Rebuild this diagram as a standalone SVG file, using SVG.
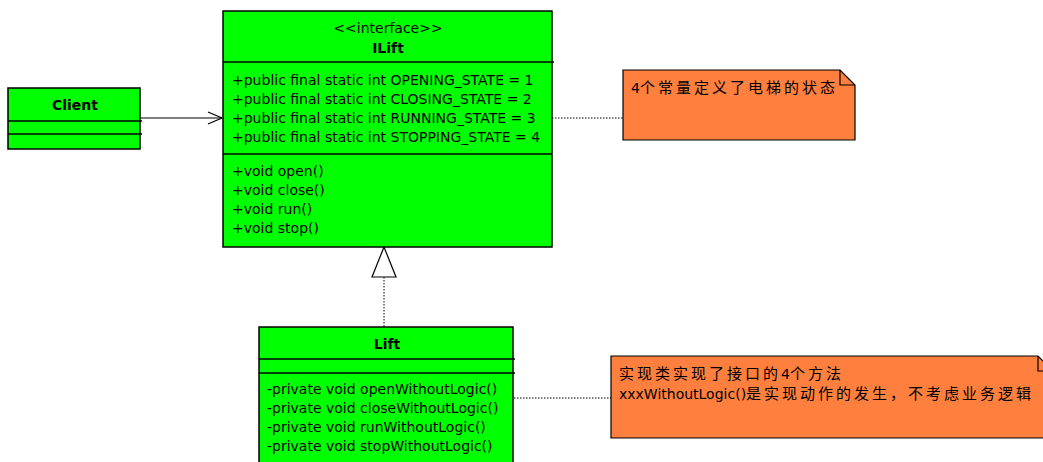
<svg xmlns="http://www.w3.org/2000/svg" width="1043" height="462" viewBox="0 0 1043 462">
<style>
.box{fill:#00FF00;stroke:#000;stroke-width:1.5}
.div{stroke:#000;stroke-width:1.5}
.note{fill:#FF7F3F;stroke:#000;stroke-width:1.2}
.t{font-family:"DejaVu Sans",sans-serif;font-size:14px;fill:#000}
.b{font-weight:bold;text-anchor:middle}
.c{font-family:"Noto Sans CJK SC",sans-serif;font-size:15px;letter-spacing:3px}
.n{font-family:"DejaVu Sans","Noto Sans CJK SC",sans-serif;font-size:14px;fill:#000}
.dot{stroke:#000;stroke-width:1;stroke-dasharray:1.5 1.5;fill:none}
</style>
<g id="connectors">
<line x1="140" y1="118" x2="222" y2="118" stroke="#000" stroke-width="1.2"/>
<polyline points="208,112 222,118 208,124" fill="none" stroke="#000" stroke-width="1.2"/>
<line class="dot" x1="384" y1="277" x2="384" y2="327"/>
<polygon points="384,247 372,277 396,277" fill="#fff" stroke="#000" stroke-width="1.2"/>
<line class="dot" x1="552" y1="118" x2="623" y2="118"/>
<line class="dot" x1="514" y1="398" x2="611" y2="398"/>
</g>
<g id="client">
<rect class="box" x="8" y="88" width="132" height="61"/>
<line class="div" x1="8" y1="121" x2="142" y2="121"/>
<line class="div" x1="8" y1="134" x2="142" y2="134"/>
<text class="t b" x="75" y="110">Client</text>
</g>
<g id="ilift">
<rect class="box" x="223" y="11" width="329" height="236"/>
<line class="div" x1="223" y1="62" x2="554" y2="62"/>
<line class="div" x1="223" y1="154" x2="552" y2="154"/>
<text class="t" x="388" y="33" text-anchor="middle">&lt;&lt;interface&gt;&gt;</text>
<text class="t b" x="388" y="53">ILift</text>
<text class="t" x="232" y="85">+public final static int OPENING_STATE = 1</text>
<text class="t" x="232" y="104">+public final static int CLOSING_STATE = 2</text>
<text class="t" x="232" y="123">+public final static int RUNNING_STATE = 3</text>
<text class="t" x="232" y="142">+public final static int STOPPING_STATE = 4</text>
<text class="t" x="232" y="176">+void open()</text>
<text class="t" x="232" y="195">+void close()</text>
<text class="t" x="232" y="214">+void run()</text>
<text class="t" x="232" y="233">+void stop()</text>
</g>
<g id="lift">
<rect class="box" x="259" y="327" width="254" height="140"/>
<line class="div" x1="259" y1="359" x2="515" y2="359"/>
<line class="div" x1="259" y1="373" x2="515" y2="373"/>
<text class="t b" x="387" y="349">Lift</text>
<text class="t" x="267" y="394">-private void openWithoutLogic()</text>
<text class="t" x="267" y="413">-private void closeWithoutLogic()</text>
<text class="t" x="267" y="432">-private void runWithoutLogic()</text>
<text class="t" x="267" y="451">-private void stopWithoutLogic()</text>
</g>
<g id="note1">
<path class="note" d="M623,70 H840 L855,85 V140 H623 Z"/>
<polyline points="840,70 840,85 855,85" fill="none" stroke="#000" stroke-width="1.2"/>
<text class="n" x="631" y="93">4<tspan class="c">个常量定义了电梯的状态</tspan></text>
</g>
<g id="note2">
<path class="note" d="M611,356 H1038 L1053,371 V438 H611 Z"/>
<polyline points="1038,356 1038,371 1053,371" fill="none" stroke="#000" stroke-width="1.2"/>
<text class="n" x="619" y="379"><tspan class="c">实现类实现了接口的</tspan>4<tspan class="c">个方法</tspan></text>
<text class="n" x="619" y="399">xxxWithoutLogic()<tspan class="c">是实现动作的发生，不考虑业务逻辑</tspan></text>
</g>
</svg>
